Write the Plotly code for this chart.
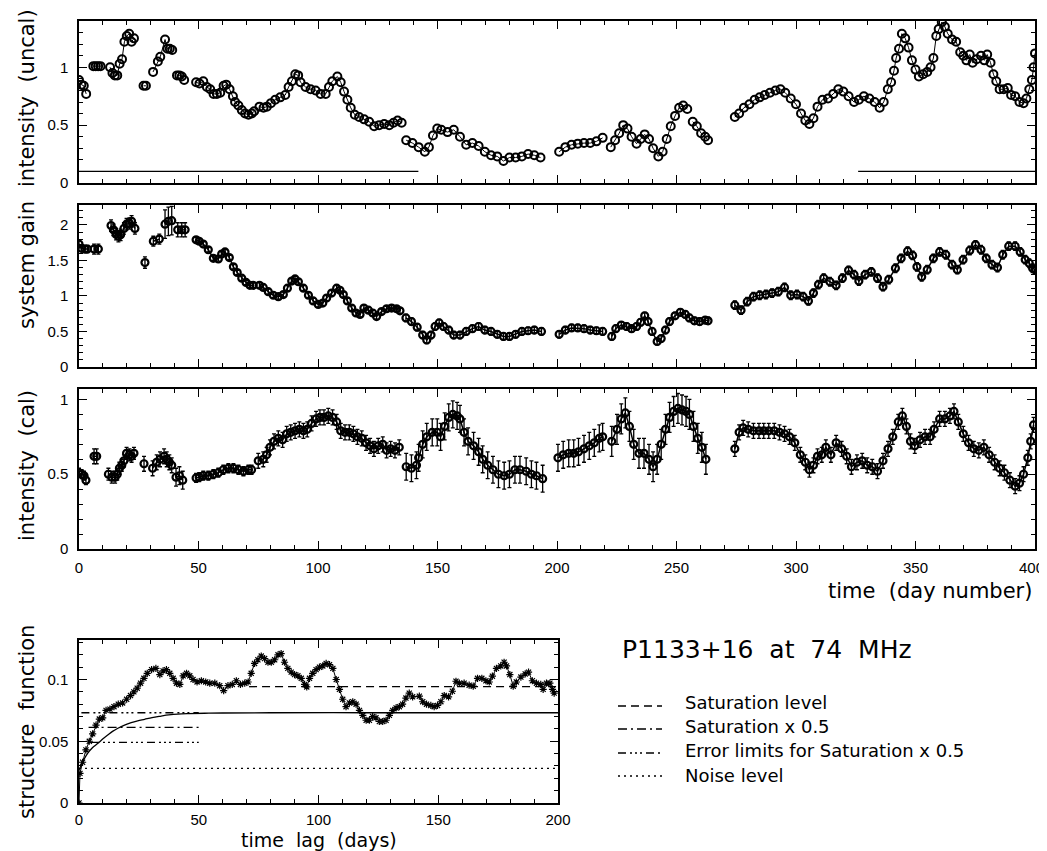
import plotly.graph_objects as go

W, H = 1047, 851
OFF = 8  # page body margin of the browser
FW, FH = W - OFF, H - OFF
FONT = "DejaVu Sans"
TICKFONT = "Liberation Sans"


def px(x):
    return (x - OFF) / FW


def py(y):
    return 1 - (y - OFF) / FH


# ---------------- data: intensity (uncal) ----------------
uncal_days = [
    [0, 1, 2, 3],
    [6, 7, 8, 9],
    [13, 14, 15, 16, 17, 18, 19, 20, 21, 22, 23],
    [27, 28],
    [31, 33, 34, 36, 37, 38, 39],
    [41, 42, 43, 44],
    [49, 50.4, 52, 53.5, 54.9, 56.3, 57.7, 59.1, 60.5, 61.6, 63, 64.4, 65.3, 66.7, 68.1, 69.5, 70.9, 72.3, 73.3],
    [75.5, 77.2, 78.6, 80.3, 82.1, 84.2, 86.3, 87.7, 89.1, 90.5, 91.7, 92.7, 94.8, 96.9, 99, 101.1, 103.2, 104.6,
     106, 108.1, 109.5, 110.9, 112.3, 113.7, 115.4, 117.2, 119.3, 121.4, 123.5, 125.6, 127.7, 129.8, 131.6, 133.3, 135],
    [136.9, 139.5, 142.1, 144.7, 146.4, 148.1, 149.9, 151.6, 154.2, 156.8, 159.4, 162, 164.6, 167.2, 169.8, 172.4,
     175, 177.6, 180.1, 182.7, 185.3, 187.9, 190.5, 193.1],
    [200.9, 203.5, 206.1, 208.7, 211.3, 213.9, 216.5, 219.1],
    [222.5, 224.3, 226, 227.7, 229.5, 231.2, 233.3, 235, 236.7, 238.5, 240.2, 242.4, 244.2, 245.9, 247.6, 249.4,
     251.1, 252.8, 254.5],
    [256.8, 258.5, 260.3, 262, 263.2],
    [274.4, 276.2, 278.2, 280.5, 282.7, 284.8, 286.9, 289.1, 291.4, 293.5, 295.5, 297.8, 300, 302.1, 303.9, 305.6,
     307.3, 309, 311.1, 313.4, 315.6, 317.7, 319.8, 322, 324.3, 326.3, 328.4, 330.7, 332.9, 335, 336.7, 338.4,
     339.8, 341, 341.9, 343.1, 344.3, 345.7, 347.1, 348.5, 350, 351.4, 353.2, 354.9, 356.3, 357.5, 358.7, 359.7,
     361, 362.3, 363.5, 365.3, 367, 368.7, 370, 371.3, 372.7, 373.9, 375.6, 377.4, 378.8, 380, 381.4, 382.6,
     383.8, 385.2, 386.9, 388.6, 390, 391.7, 393.5, 395.2, 396.4, 397.6, 398.7, 399.4, 400],
]
uncal_vals = [
    [0.89, 0.85, 0.84, 0.77],
    [1.01, 1.01, 1.01, 1.01],
    [1.00, 0.95, 0.93, 0.93, 1.03, 1.07, 1.22, 1.27, 1.29, 1.22, 1.25],
    [0.84, 0.84],
    [0.96, 1.05, 1.09, 1.24, 1.16, 1.16, 1.15],
    [0.93, 0.93, 0.92, 0.89],
    [0.87, 0.86, 0.88, 0.83, 0.81, 0.77, 0.77, 0.78, 0.84, 0.85, 0.81, 0.75, 0.70, 0.67, 0.63, 0.60, 0.59, 0.60, 0.62],
    [0.66, 0.65, 0.66, 0.69, 0.72, 0.74, 0.76, 0.83, 0.88, 0.94, 0.93, 0.87, 0.83, 0.81, 0.80, 0.77, 0.77, 0.83,
     0.88, 0.92, 0.87, 0.79, 0.72, 0.65, 0.59, 0.57, 0.55, 0.53, 0.49, 0.50, 0.51, 0.50, 0.52, 0.54, 0.52],
    [0.37, 0.345, 0.31, 0.27, 0.31, 0.41, 0.47, 0.46, 0.44, 0.46, 0.40, 0.33, 0.345, 0.32, 0.27, 0.24, 0.23, 0.19,
     0.22, 0.22, 0.23, 0.25, 0.24, 0.22],
    [0.27, 0.31, 0.33, 0.34, 0.345, 0.345, 0.36, 0.39],
    [0.31, 0.37, 0.43, 0.50, 0.47, 0.40, 0.34, 0.38, 0.42, 0.38, 0.30, 0.23, 0.27, 0.38, 0.49, 0.58, 0.65, 0.67, 0.64],
    [0.53, 0.49, 0.43, 0.40, 0.37],
    [0.57, 0.60, 0.65, 0.68, 0.72, 0.74, 0.76, 0.78, 0.80, 0.81, 0.78, 0.73, 0.68, 0.60, 0.54, 0.51, 0.56, 0.66,
     0.72, 0.73, 0.77, 0.81, 0.79, 0.75, 0.70, 0.72, 0.75, 0.73, 0.70, 0.65, 0.70, 0.81, 0.87, 0.97, 1.08, 1.16,
     1.29, 1.25, 1.17, 1.06, 0.98, 0.92, 0.94, 0.96, 1.00, 1.08, 1.27, 1.33, 1.39, 1.35, 1.29, 1.24, 1.22, 1.13,
     1.10, 1.06, 1.11, 1.04, 1.07, 1.10, 1.06, 1.11, 1.04, 0.94, 0.88, 0.81, 0.81, 0.82, 0.76, 0.75, 0.70, 0.69,
     0.73, 0.81, 0.89, 1.00, 1.12],
]
uncal_ref_level = 0.1
uncal_ref_spans = [[0, 142], [326, 400]]

# ---------------- data: system gain ----------------
gain_days = [
    [0, 1.1, 2.5, 3.5],
    [6.3, 8.1],
    [13.4, 14.4, 15.5, 16.5, 17.4, 18.8, 19.9, 21.1, 22, 23.4],
    [27.6],
    [31.1, 33.6],
    [36, 37.4, 38.8],
    [41.3, 43, 44.4],
    [49, 50.3, 52, 54.1, 56.2, 58.3, 59.7, 61.1, 62.9, 64.6, 66.2, 68.1, 69.9, 71.5, 72.9],
    [75.5, 77.1, 79.2, 81.3, 83.4, 85.5, 87.2, 89, 90.4, 91.8, 93.9, 96, 98, 100.1, 102, 103.6, 105.7, 107.8,
     109.2, 110.6, 112.3, 114.1, 115.9, 117.6, 119.2, 121.1, 122.9, 124.5, 126.6, 128.7, 130.8, 132.9, 134.3],
    [136.8, 139.1, 141.5, 143.8, 145.5, 147.3, 149, 150.7, 152.5, 154.7, 156.8, 159.4, 162, 164.6, 167.2, 169.8,
     172.4, 175, 177.6, 180.1, 182.7, 185.3, 187.9, 190.5, 193.5],
    [200.9, 203.5, 206.1, 208.7, 211.3, 213.9, 216.5, 219.1],
    [222.9, 224.6, 226.9, 229.1, 231.2, 233.3, 235, 236.7, 238.1, 239.8, 241.9, 243.6, 245.4, 247.1, 249.4, 251.6,
     253.7, 255.4, 257.5, 259.7, 262, 263.2],
    [274.4, 277, 279.6, 282.2, 284.8, 287.4, 290, 292.6, 295.2, 297.8, 300.4, 303, 305.2, 307.3, 309.4, 311.6,
     314.2, 316.8, 319.4, 322, 324.3, 326.3, 328.9, 331.5, 334.1, 336.4, 338.8, 341.6, 344, 346.7, 348.8, 350.6,
     352.6, 354.9, 357.5, 360.1, 362.7, 365.3, 367.5, 369.9, 372.7, 375.1, 377.4, 379.6, 382, 384.3, 386.5, 389,
     391.7, 393.8, 395.9, 397.6, 399, 400],
]
gain_vals = [
    [1.73, 1.67, 1.66, 1.66],
    [1.66, 1.66],
    [1.99, 1.93, 1.87, 1.84, 1.86, 1.95, 2.01, 2.02, 2.05, 1.95],
    [1.47],
    [1.77, 1.80],
    [2.01, 2.05, 2.06],
    [1.93, 1.93, 1.93],
    [1.79, 1.77, 1.73, 1.65, 1.53, 1.52, 1.59, 1.62, 1.54, 1.41, 1.33, 1.25, 1.19, 1.15, 1.15],
    [1.15, 1.12, 1.06, 1.01, 0.99, 1.02, 1.11, 1.21, 1.24, 1.20, 1.11, 1.01, 0.93, 0.88, 0.90, 0.97, 1.04, 1.11,
     1.08, 1.02, 0.93, 0.83, 0.76, 0.74, 0.83, 0.80, 0.76, 0.71, 0.78, 0.82, 0.83, 0.82, 0.79],
    [0.69, 0.64, 0.56, 0.45, 0.38, 0.45, 0.57, 0.62, 0.57, 0.52, 0.45, 0.45, 0.50, 0.54, 0.57, 0.52, 0.50, 0.46,
     0.43, 0.43, 0.46, 0.50, 0.51, 0.52, 0.50],
    [0.46, 0.52, 0.55, 0.55, 0.54, 0.52, 0.51, 0.50],
    [0.43, 0.54, 0.59, 0.57, 0.54, 0.57, 0.63, 0.72, 0.64, 0.50, 0.36, 0.40, 0.52, 0.64, 0.72, 0.77, 0.74, 0.69,
     0.65, 0.64, 0.66, 0.65],
    [0.87, 0.80, 0.92, 0.99, 1.01, 1.02, 1.04, 1.06, 1.12, 1.01, 1.02, 0.99, 0.93, 1.04, 1.16, 1.25, 1.20, 1.15,
     1.25, 1.36, 1.30, 1.21, 1.30, 1.34, 1.25, 1.13, 1.23, 1.39, 1.53, 1.63, 1.57, 1.41, 1.27, 1.37, 1.53, 1.62,
     1.58, 1.44, 1.37, 1.51, 1.64, 1.72, 1.65, 1.53, 1.44, 1.40, 1.58, 1.70, 1.70, 1.62, 1.51, 1.46, 1.39, 1.37],
]
gain_err = [0.05, 0.07, 0.08, 0.08, 0.07, 0.2, 0.1, 0.03, 0.035, 0.05, 0.05, 0.05, 0.06]

# ---------------- data: intensity (cal) ----------------
cal_days = [
    [0, 1.1, 2.1, 2.9],
    [6.3, 7.4],
    [12.3, 13.7, 15.1, 16, 16.9, 17.9, 18.8, 19.9, 21.1, 22, 23],
    [27.2],
    [30.8, 32.5, 33.9, 35.6, 36.7, 37.8, 38.8],
    [40.6, 42, 43.4],
    [49, 50.3, 52, 54.1, 56.2, 58.3, 60.4, 62.5, 64.6, 66.7, 68.8, 70.9, 72.2],
    [75, 77.1, 78.5, 79.9, 81.6, 83.4, 85.2, 86.9, 88.6, 90.4, 92.2, 93.9, 95.5, 97.3, 99.2, 100.8, 102.5, 104.3,
     106.1, 107.8, 109.5, 111.3, 113.1, 114.8, 116.5, 118.3, 120.1, 121.8, 123.4, 125.2, 127.1, 128.7, 130.4,
     132.2, 134],
    [136.9, 139.1, 141.2, 142.1, 143.8, 145.5, 147.8, 149.9, 151.3, 153, 154.7, 156.4, 158.2, 159.4, 161.1, 162.8,
     165.1, 167.2, 168.9, 171, 173.2, 175.5, 177.9, 180.1, 182.4, 184.5, 187.1, 189.3, 191.4, 194],
    [200.4, 202.6, 204.9, 207, 209, 211.3, 213.5, 215.6, 217.7, 219.1],
    [222.9, 225.1, 226.9, 228.6, 230.3, 232.1, 234.3, 236.4, 238.5, 240.2, 241.9, 243.6, 245.4, 247.1, 248.8,
     250.6, 252.3, 254, 255.4, 257.1, 258.9, 260.6, 262.3],
    [274.4, 276.2, 277.9, 280, 282.2, 284.5, 286.5, 288.6, 290.9, 293.1, 295.2, 297.3, 299.5, 301.8, 303.9, 305.6,
     307.3, 309, 310.8, 312.5, 314.6, 316.8, 319.1, 321.2, 323.2, 325.5, 327.7, 329.8, 331.9, 334.1, 336.4,
     338.5, 340.5, 342.8, 344.5, 346.2, 347.9, 349.7, 351.9, 354, 356.1, 357.8, 360.1, 362.3, 364.4, 366.1,
     367.9, 370, 372.2, 374.4, 376.5, 378.6, 380.8, 383.1, 385.2, 387.2, 389.5, 391.7, 393.5, 395.2, 397, 398.2,
     399.4],
]
cal_vals = [
    [0.51, 0.50, 0.49, 0.46],
    [0.62, 0.62],
    [0.50, 0.48, 0.48, 0.50, 0.54, 0.56, 0.59, 0.64, 0.63, 0.62, 0.64],
    [0.57],
    [0.54, 0.58, 0.60, 0.62, 0.60, 0.58, 0.56],
    [0.48, 0.49, 0.46],
    [0.475, 0.48, 0.49, 0.49, 0.50, 0.51, 0.53, 0.54, 0.54, 0.53, 0.52, 0.53, 0.53],
    [0.59, 0.60, 0.63, 0.68, 0.72, 0.74, 0.73, 0.77, 0.78, 0.79, 0.80, 0.79, 0.80, 0.84, 0.87, 0.88, 0.88, 0.89,
     0.88, 0.85, 0.79, 0.78, 0.78, 0.77, 0.75, 0.74, 0.71, 0.69, 0.67, 0.69, 0.70, 0.66, 0.67, 0.66, 0.68],
    [0.55, 0.54, 0.56, 0.61, 0.70, 0.75, 0.78, 0.78, 0.75, 0.82, 0.88, 0.90, 0.89, 0.87, 0.78, 0.72, 0.69, 0.65,
     0.60, 0.56, 0.53, 0.50, 0.49, 0.50, 0.53, 0.53, 0.52, 0.50, 0.49, 0.47],
    [0.61, 0.63, 0.64, 0.64, 0.65, 0.67, 0.69, 0.71, 0.74, 0.75],
    [0.72, 0.80, 0.87, 0.91, 0.82, 0.70, 0.64, 0.64, 0.60, 0.55, 0.60, 0.70, 0.80, 0.88, 0.92, 0.94, 0.93, 0.92,
     0.90, 0.82, 0.74, 0.68, 0.60],
    [0.67, 0.78, 0.81, 0.80, 0.79, 0.79, 0.79, 0.79, 0.79, 0.78, 0.77, 0.75, 0.71, 0.63, 0.58, 0.53, 0.56, 0.62,
     0.63, 0.68, 0.63, 0.71, 0.67, 0.62, 0.55, 0.58, 0.59, 0.56, 0.55, 0.52, 0.59, 0.67, 0.75, 0.85, 0.89, 0.82,
     0.72, 0.69, 0.73, 0.75, 0.75, 0.80, 0.87, 0.87, 0.89, 0.92, 0.85, 0.77, 0.71, 0.67, 0.66, 0.68, 0.63, 0.58,
     0.54, 0.51, 0.46, 0.42, 0.44, 0.50, 0.61, 0.72, 0.83],
]
cal_err = [0.03, 0.05, 0.04, 0.05, 0.05, 0.06, 0.03, 0.05, 0.09, 0.09, 0.1, 0.05]

# ---------------- data: structure function ----------------
sf_lag = [0, 0.4, 1.5, 2.9, 4.3, 5.7, 7.1, 8.5, 9.9, 11.3, 12.9, 14.6, 16.4, 18.2, 19.9, 21.5, 22.9, 24.3, 25.7,
          27.1, 28.5, 30.3, 32.1, 33.75, 35.1, 36.5, 37.9, 39.3, 40.7, 42.1, 43.5, 44.9, 46.25, 47.6, 49.3, 51.1,
          52.9, 54.6, 56.7, 58.75, 60.4, 62.2, 64, 65.7, 67.4, 69.2, 70.6, 71.9, 73.3, 74.7, 76.1, 77.5, 78.9, 80.3,
          81.7, 83.1, 84.4, 85.8, 87.2, 88.6, 90, 91.4, 92.8, 94.2, 95.1, 96.25, 97.6, 99, 100.4, 101.8, 103.2,
          104.6, 106, 107.4, 108.75, 110.1, 111.5, 112.9, 114.3, 115.7, 117.1, 118.5, 119.9, 121.25, 122.6, 124,
          125.4, 126.8, 128.2, 129.6, 131, 132.4, 133.75, 135.1, 136.5, 137.9, 139.3, 142.1, 143.5, 145.1, 146.9,
          148.3, 149.7, 151.1, 152.5, 154.3, 155.9, 157.4, 158.8, 160.8, 162.9, 164.6, 166.4, 168.2, 169.9, 171.3,
          172.6, 174.3, 176.1, 177.5, 178.5, 179.9, 181.3, 182.6, 184.5, 186.3, 187.7, 189.3, 191, 192.8, 193.8,
          195.2, 196.6, 197.7, 198.4]
sf_val = [0.0, 0.024, 0.033, 0.043, 0.050, 0.056, 0.063, 0.068, 0.069, 0.075, 0.076, 0.078, 0.080, 0.081, 0.084,
          0.087, 0.090, 0.093, 0.097, 0.101, 0.105, 0.108, 0.109, 0.104, 0.107, 0.108, 0.105, 0.101, 0.097, 0.096,
          0.103, 0.105, 0.103, 0.100, 0.098, 0.099, 0.098, 0.097, 0.097, 0.095, 0.091, 0.095, 0.096, 0.099, 0.096,
          0.097, 0.098, 0.105, 0.113, 0.116, 0.119, 0.117, 0.114, 0.114, 0.116, 0.120, 0.121, 0.114, 0.109, 0.106,
          0.104, 0.103, 0.101, 0.096, 0.094, 0.101, 0.105, 0.108, 0.110, 0.111, 0.113, 0.112, 0.109, 0.100, 0.092,
          0.084, 0.078, 0.081, 0.082, 0.080, 0.075, 0.071, 0.067, 0.067, 0.070, 0.069, 0.066, 0.066, 0.067, 0.071,
          0.075, 0.077, 0.078, 0.080, 0.085, 0.089, 0.086, 0.0865, 0.082, 0.080, 0.079, 0.078, 0.079, 0.082, 0.087,
          0.086, 0.0905, 0.0986, 0.097, 0.097, 0.0954, 0.0946, 0.101, 0.101, 0.099, 0.098, 0.1027, 0.109, 0.111,
          0.114, 0.111, 0.104, 0.0946, 0.098, 0.102, 0.1045, 0.106, 0.099, 0.097, 0.096, 0.092, 0.097, 0.097,
          0.092, 0.089]

fit_lag = [0, 1, 2, 3.75, 5.5, 7.9, 10, 12, 14, 16.25, 19, 21.8, 24.5, 27.4, 30.5, 34.3, 37.5, 41.25, 46, 52.4,
           60, 80, 120, 160, 200]
fit_val = [0.0267, 0.031, 0.035, 0.0405, 0.0445, 0.0483, 0.052, 0.055, 0.058, 0.0605, 0.063, 0.065, 0.0665,
           0.0678, 0.0692, 0.0704, 0.0713, 0.072, 0.0724, 0.0727, 0.0729, 0.0731, 0.0731, 0.0731, 0.0731]

sat_level, sat_span = 0.0942, [71, 200]
sat_half, sat_half_span = 0.0612, [4, 50]
err_hi, err_hi_span = 0.0731, [1, 50]
err_lo, err_lo_span = 0.0491, [5, 50]
noise_level, noise_span = 0.0281, [0, 200]

day_ticks = [0, 50, 100, 150, 200, 250, 300, 350, 400]
day_tick_text = ["0", "50", "100", "150", "200", "250", "300", "350", ""]  # "400" placed as text at the page edge
last_day_label = "400"

legend_labels = ["Saturation level", "Saturation x 0.5", "Error limits for Saturation x 0.5", "Noise level"]


# ---------------- helpers ----------------
def flatten(segs_x, segs_y, seg_err=None):
    xs, ys, es = [], [], []
    for i, (sx, sy) in enumerate(zip(segs_x, segs_y)):
        if i:
            xs.append(None); ys.append(None); es.append(0)
        for a, b in zip(sx, sy):
            xs.append(a); ys.append(b)
            es.append(seg_err[i] if seg_err is not None else 0)
    return xs, ys, es


fig = go.Figure()

# panel 1
x1, y1, _ = flatten(uncal_days, uncal_vals)
fig.add_trace(go.Scatter(x=x1, y=y1, mode="lines+markers", xaxis="x", yaxis="y",
                         line=dict(color="black", width=1),
                         marker=dict(symbol="circle-open", size=8, color="black", line=dict(width=2)),
                         showlegend=False, connectgaps=False))
for span in uncal_ref_spans:
    fig.add_trace(go.Scatter(x=span, y=[uncal_ref_level] * 2, mode="lines", xaxis="x", yaxis="y",
                             line=dict(color="black", width=1.2), showlegend=False))

# panel 2
x2, y2, e2 = flatten(gain_days, gain_vals, gain_err)
fig.add_trace(go.Scatter(x=x2, y=y2, mode="lines+markers", xaxis="x2", yaxis="y2",
                         line=dict(color="black", width=1.5),
                         marker=dict(symbol="circle-open", size=7, color="black", line=dict(width=2.2)),
                         error_y=dict(type="data", array=e2, visible=True, color="black", thickness=1.3, width=2),
                         showlegend=False, connectgaps=False))

# panel 3
x3, y3, e3 = flatten(cal_days, cal_vals, cal_err)
fig.add_trace(go.Scatter(x=x3, y=y3, mode="lines+markers", xaxis="x3", yaxis="y3",
                         line=dict(color="black", width=1.5),
                         marker=dict(symbol="circle-open", size=7, color="black", line=dict(width=2.2)),
                         error_y=dict(type="data", array=e3, visible=True, color="black", thickness=1.3, width=2),
                         showlegend=False, connectgaps=False))

# panel 4
DASH_SAT = "8px,5px"
DASH_HALF = "9px,4px,2px,4px"
DASH_ERR = "8px,4px,2px,3px,2px,3px,2px,4px"
DASH_NOISE = "2px,4px"

fig.add_trace(go.Scatter(x=sf_lag, y=sf_val, mode="lines+markers", xaxis="x4", yaxis="y4",
                         line=dict(color="black", width=1),
                         marker=dict(symbol="asterisk-open", size=6, color="black", line=dict(width=1.2)),
                         showlegend=False))
fig.add_trace(go.Scatter(x=fit_lag, y=fit_val, mode="lines", xaxis="x4", yaxis="y4", line_shape="spline",
                         line=dict(color="black", width=1.3), showlegend=False))
for lvl, span, dash in [(sat_level, sat_span, DASH_SAT), (sat_half, sat_half_span, DASH_HALF),
                        (err_hi, err_hi_span, DASH_ERR), (err_lo, err_lo_span, DASH_ERR),
                        (noise_level, noise_span, DASH_NOISE)]:
    fig.add_trace(go.Scatter(x=span, y=[lvl, lvl], mode="lines", xaxis="x4", yaxis="y4",
                             line=dict(color="black", width=1.3, dash=dash), showlegend=False))

# ---------------- axes ----------------
tickfont = dict(family=TICKFONT, size=15, color="black")


def ax(**kw):
    d = dict(showline=True, linecolor="black", linewidth=1.5, mirror="ticks", ticks="inside", ticklen=8,
             tickwidth=1.2, tickcolor="black", showgrid=False, zeroline=False, automargin=False,
             tickfont=tickfont, ticklabelstandoff=6, ticklabeloverflow="allow")
    d.update(kw)
    return d


xminor = dict(dtick=10, tick0=0, ticks="inside", ticklen=4, tickwidth=1, tickcolor="black", showgrid=False)


def yminor(step):
    return dict(dtick=step, tick0=0, ticks="inside", ticklen=4, tickwidth=1, tickcolor="black", showgrid=False)


P_L, P_R = 79, 1035

fig.update_layout(
    width=FW, height=FH, margin=dict(l=0, r=0, t=0, b=0, autoexpand=False),
    paper_bgcolor="white", plot_bgcolor="white",
    font=dict(family=FONT, color="black"),
    xaxis=ax(domain=[px(P_L), px(P_R)], range=[0, 400], dtick=50, tick0=0, minor=xminor,
             showticklabels=False, anchor="y"),
    yaxis=ax(domain=[py(183), py(21)], range=[0, 1.4], dtick=0.5, tick0=0, anchor="x", minor=yminor(0.1)),
    xaxis2=ax(domain=[px(P_L), px(P_R)], range=[0, 400], dtick=50, tick0=0, minor=xminor,
              showticklabels=False, anchor="y2"),
    yaxis2=ax(domain=[py(367), py(205)], range=[0, 2.28], dtick=0.5, tick0=0, anchor="x2", minor=yminor(0.1)),
    xaxis3=ax(domain=[px(P_L), px(P_R)], range=[0, 400], tickmode="array", tickvals=day_ticks,
              ticktext=day_tick_text, minor=xminor, anchor="y3", ticklabelstandoff=4),
    yaxis3=ax(domain=[py(549), py(389)], range=[0, 1.07], dtick=0.5, tick0=0, anchor="x3", minor=yminor(0.1)),
    xaxis4=ax(domain=[px(P_L), px(558)], range=[0, 200], dtick=50, tick0=0, minor=xminor, anchor="y4",
              ticklabelstandoff=2),
    yaxis4=ax(domain=[py(803), py(640)], range=[0, 0.132], dtick=0.05, tick0=0, anchor="x4",
              minor=yminor(0.01)),
)

# ---------------- text ----------------
ann = []


def add_text(text, x, y, size, xanchor="center", yanchor="middle", angle=0, family=FONT):
    ann.append(dict(text=text, x=px(x), y=py(y), xref="paper", yref="paper", showarrow=False,
                    xanchor=xanchor, yanchor=yanchor, textangle=angle,
                    font=dict(family=family, size=size, color="black")))


add_text("intensity  (uncal)", 27, 98, 21, angle=-90)
add_text("system gain", 27, 265, 21, angle=-90)
add_text("intensity  (cal)", 27, 466, 21, angle=-90)
add_text("structure  function", 27, 722, 21, angle=-90)
add_text("time  (day number)", 1034, 591, 21, xanchor="right")
add_text("time  lag  (days)", 319, 840, 19)
add_text("P1133+16  at  74  MHz", 620, 649, 25, xanchor="left")
add_text(last_day_label, 1046, 567, 15, xanchor="right", family=TICKFONT)

legend_text_y = [702, 726, 750, 775]
legend_line_y = [706, 729, 753, 776]
legend_dash = [DASH_SAT, DASH_HALF, DASH_ERR, DASH_NOISE]
shapes = []
for lab, ty, ly, dsh in zip(legend_labels, legend_text_y, legend_line_y, legend_dash):
    add_text(lab, 683, ty, 18, xanchor="left")
    shapes.append(dict(type="line", xref="paper", yref="paper", x0=px(618), x1=px(662), y0=py(ly), y1=py(ly),
                       line=dict(color="black", width=1.3, dash=dsh)))

fig.update_layout(annotations=ann, shapes=shapes)

fig.write_html("out.html")
